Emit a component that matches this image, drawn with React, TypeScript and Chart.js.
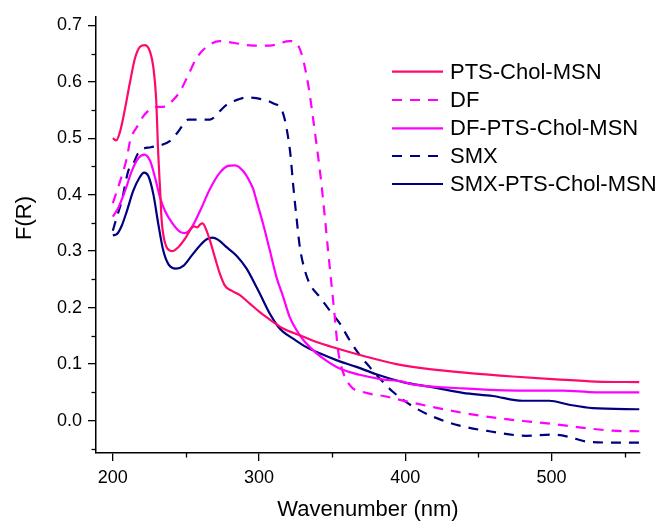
import React, { useEffect, useRef } from 'react';
import { Chart, registerables } from 'chart.js';

Chart.register(...registerables);

const X_TICKS = [200, 300, 400, 500];
const X_MINOR = [250, 350, 450, 550];
const Y_TICKS = [0, 0.1, 0.2, 0.3, 0.4, 0.5, 0.6, 0.7];
const Y_MINOR = [-0.05, 0.05, 0.15, 0.25, 0.35, 0.45, 0.55, 0.65];

const SERIES_NAMES = ['PTS-Chol-MSN', 'DF', 'DF-PTS-Chol-MSN', 'SMX', 'SMX-PTS-Chol-MSN'];

const ptsX = [200, 202.3, 205, 208.4, 211.8, 215.2, 218.6, 222, 225.5, 227.7, 229.6, 231.1, 232.3, 233.4, 235, 236.8, 238.5, 240.5, 244.8, 249.4, 253.9, 255.7, 257.8, 259.6, 261.4, 263.7, 266.4, 269.8, 273.2, 276.6, 281.2, 286.9, 293.7, 300.5, 305.1, 316.5, 327.9, 339.3, 352.9, 373.4, 393.9, 416.6, 443.9, 473.5, 503, 530.4, 560];
const ptsY = [0.5, 0.496, 0.512, 0.553, 0.6, 0.642, 0.662, 0.665, 0.653, 0.626, 0.571, 0.47, 0.41, 0.354, 0.322, 0.307, 0.302, 0.3, 0.307, 0.322, 0.341, 0.344, 0.342, 0.347, 0.349, 0.339, 0.319, 0.289, 0.26, 0.239, 0.23, 0.222, 0.207, 0.192, 0.183, 0.163, 0.151, 0.139, 0.128, 0.113, 0.1, 0.091, 0.084, 0.078, 0.073, 0.069, 0.068];

const dfX = [200, 205, 209.6, 211.8, 217.5, 220.9, 225.5, 229, 236, 241.4, 246, 251.6, 257.3, 264.2, 273.2, 282.3, 296, 307.4, 321, 324.4, 329, 332.4, 334.7, 336.9, 339.3, 341.5, 342.7, 345, 347.2, 349.5, 351.8, 354, 356.3, 361.9, 373.4, 386, 400.7, 428, 455.3, 484.8, 500.7, 519, 541.7, 560];
const dfY = [0.385, 0.424, 0.465, 0.495, 0.524, 0.539, 0.551, 0.555, 0.556, 0.568, 0.583, 0.612, 0.642, 0.662, 0.672, 0.669, 0.664, 0.664, 0.672, 0.671, 0.65, 0.612, 0.577, 0.536, 0.489, 0.445, 0.418, 0.36, 0.301, 0.242, 0.183, 0.125, 0.095, 0.063, 0.049, 0.043, 0.034, 0.019, 0.007, -0.002, -0.006, -0.012, -0.018, -0.019];

const dfPtsX = [200, 203.8, 208.4, 213, 217.5, 221.6, 225.5, 228.9, 232.3, 235.7, 240.3, 246, 249.4, 253.9, 259.6, 266.4, 273.2, 278.9, 283.5, 289.1, 293.7, 296, 298.3, 302.8, 307.4, 311.9, 316.5, 321, 327.9, 334.7, 343.8, 355.2, 368.8, 384, 398, 405, 439.3, 480.3, 507.6, 530.4, 560];
const dfPtsY = [0.361, 0.377, 0.407, 0.442, 0.465, 0.471, 0.46, 0.43, 0.395, 0.371, 0.351, 0.334, 0.332, 0.342, 0.371, 0.41, 0.439, 0.451, 0.452, 0.442, 0.423, 0.41, 0.389, 0.348, 0.301, 0.254, 0.219, 0.183, 0.151, 0.13, 0.11, 0.092, 0.081, 0.073, 0.069, 0.064, 0.057, 0.053, 0.053, 0.05, 0.05];

const smxX = [200, 202.7, 206.1, 210.6, 214, 217, 219.8, 226, 233.4, 240, 244.8, 251.6, 258.4, 266.4, 273.2, 276.7, 282.3, 291.5, 305.1, 309.6, 315.4, 317.6, 319.9, 321.5, 323.3, 325.6, 327.9, 331.3, 334.7, 341.5, 348.3, 355.2, 362, 368.8, 375.6, 383, 391.5, 405.2, 418.8, 437.1, 457.5, 482.6, 500.7, 512, 523.5, 541.7, 560];
const smxY = [0.336, 0.36, 0.389, 0.442, 0.455, 0.472, 0.48, 0.484, 0.488, 0.497, 0.512, 0.533, 0.533, 0.533, 0.548, 0.557, 0.565, 0.572, 0.567, 0.562, 0.551, 0.533, 0.501, 0.47, 0.418, 0.36, 0.307, 0.266, 0.242, 0.219, 0.195, 0.172, 0.142, 0.116, 0.095, 0.073, 0.051, 0.025, 0.007, -0.009, -0.019, -0.027, -0.025, -0.029, -0.037, -0.039, -0.039];

const smxPtsX = [200, 202.7, 206.1, 209.6, 214, 218.2, 221.4, 224.3, 227.7, 231.1, 234.5, 238, 243.2, 248.2, 253.9, 259.6, 264.2, 268, 272.1, 277.8, 284.6, 291.5, 298.3, 300.5, 307.4, 313.1, 316.5, 323.3, 332.4, 341.5, 352.9, 366.6, 380.2, 398.4, 416.6, 439.3, 459.8, 480.3, 498.5, 512, 528, 560];
const smxPtsY = [0.328, 0.33, 0.345, 0.371, 0.407, 0.43, 0.439, 0.433, 0.401, 0.348, 0.301, 0.277, 0.269, 0.274, 0.292, 0.31, 0.321, 0.324, 0.32, 0.307, 0.292, 0.269, 0.236, 0.225, 0.189, 0.166, 0.157, 0.145, 0.13, 0.119, 0.107, 0.095, 0.082, 0.068, 0.06, 0.049, 0.0435, 0.035, 0.035, 0.028, 0.022, 0.02];

const RED = '#FF0A6C';
const MAGENTA = '#FF00FF';
const NAVY = '#000080';
const DASH = [10, 8];
const FONT = '"Liberation Sans", Arial, Helvetica, sans-serif';

const toPoints = (xs: number[], ys: number[]) => xs.map((x, i) => ({ x, y: ys[i] }));

const SERIES = [
  { name: SERIES_NAMES[0], xs: ptsX, ys: ptsY, color: RED, dash: [] as number[] },
  { name: SERIES_NAMES[1], xs: dfX, ys: dfY, color: MAGENTA, dash: DASH },
  { name: SERIES_NAMES[2], xs: dfPtsX, ys: dfPtsY, color: MAGENTA, dash: [] as number[] },
  { name: SERIES_NAMES[3], xs: smxX, ys: smxY, color: NAVY, dash: DASH },
  { name: SERIES_NAMES[4], xs: smxPtsX, ys: smxPtsY, color: NAVY, dash: [] as number[] },
];

const overlay = {
  id: 'overlay',
  afterDraw(chart: any) {
    const { ctx, chartArea, scales } = chart;
    const xs = scales.x;
    const ys = scales.y;
    ctx.save();
    ctx.strokeStyle = '#000';
    ctx.lineWidth = 1.3;
    ctx.setLineDash([]);
    X_MINOR.forEach((v) => {
      const px = Math.round(xs.getPixelForValue(v)) + 0.5;
      ctx.beginPath();
      ctx.moveTo(px, chartArea.bottom);
      ctx.lineTo(px, chartArea.bottom + 4.5);
      ctx.stroke();
    });
    Y_MINOR.forEach((v) => {
      const py = Math.round(ys.getPixelForValue(v)) + 0.5;
      ctx.beginPath();
      ctx.moveTo(chartArea.left, py);
      ctx.lineTo(chartArea.left - 4.5, py);
      ctx.stroke();
    });

    ctx.fillStyle = '#000';
    ctx.font = `22px ${FONT}`;
    ctx.textAlign = 'center';
    ctx.textBaseline = 'alphabetic';
    ctx.fillText('Wavenumber (nm)', (chartArea.left + chartArea.right) / 2, 516);

    ctx.save();
    ctx.translate(25, 218);
    ctx.rotate(-Math.PI / 2);
    ctx.font = `22px ${FONT}`;
    ctx.textBaseline = 'middle';
    ctx.fillText('F(R)', 0, 0);
    ctx.restore();

    const rows = [71.7, 100, 128.3, 156, 184];
    ctx.font = `22px ${FONT}`;
    ctx.textAlign = 'left';
    ctx.textBaseline = 'middle';
    SERIES.forEach((s, i) => {
      const y = rows[i];
      ctx.strokeStyle = s.color;
      ctx.lineWidth = 2.2;
      ctx.setLineDash(s.dash);
      ctx.beginPath();
      ctx.moveTo(392, y);
      ctx.lineTo(443, y);
      ctx.stroke();
      ctx.setLineDash([]);
      ctx.fillStyle = '#000';
      ctx.fillText(s.name, 450, y + 1);
    });
    ctx.restore();
  },
};

export default function App() {
  const ref = useRef<HTMLCanvasElement | null>(null);
  useEffect(() => {
    if (!ref.current) return;
    const chart = new Chart(ref.current, {
      type: 'line',
      data: {
        datasets: SERIES.map((s) => ({
          label: s.name,
          data: toPoints(s.xs, s.ys),
          borderColor: s.color,
          backgroundColor: s.color,
          borderWidth: 2.2,
          borderDash: s.dash,
          pointRadius: 0,
          cubicInterpolationMode: 'monotone' as const,
          fill: false,
        })),
      },
      options: {
        animation: false,
        responsive: false,
        devicePixelRatio: 1,
        layout: { padding: { left: 0, right: 24, top: 15, bottom: 0 } },
        plugins: { legend: { display: false }, tooltip: { enabled: false } },
        scales: {
          x: {
            type: 'linear',
            min: 188.5,
            max: 560.5,
            afterFit: (scale: any) => { scale.height = 68; },
            afterBuildTicks: (scale: any) => { scale.ticks = X_TICKS.map((v) => ({ value: v })); },
            grid: { display: true, drawOnChartArea: false, drawTicks: true, tickLength: 8, color: '#000', lineWidth: 1.3 },
            border: { display: true, color: '#000', width: 1.5 },
            ticks: { color: '#000', font: { family: FONT, size: 18 }, padding: 6, maxRotation: 0, callback: (v: any) => String(v) },
          },
          y: {
            type: 'linear',
            min: -0.0575,
            max: 0.715,
            afterFit: (scale: any) => { scale.width = 96; },
            afterBuildTicks: (scale: any) => { scale.ticks = Y_TICKS.map((v) => ({ value: v })); },
            grid: { display: true, drawOnChartArea: false, drawTicks: true, tickLength: 8, color: '#000', lineWidth: 1.3 },
            border: { display: true, color: '#000', width: 1.5 },
            ticks: { color: '#000', font: { family: FONT, size: 18 }, padding: 6, callback: (v: any) => Number(v).toFixed(1) },
          },
        },
      },
      plugins: [overlay],
    });
    return () => chart.destroy();
  }, []);
  return (
    <div style={{ position: 'fixed', left: 0, top: 0, width: 664, height: 521, background: '#fff' }}>
      <canvas ref={ref} width={664} height={521} style={{ width: 664, height: 521, display: 'block' }} />
    </div>
  );
}
